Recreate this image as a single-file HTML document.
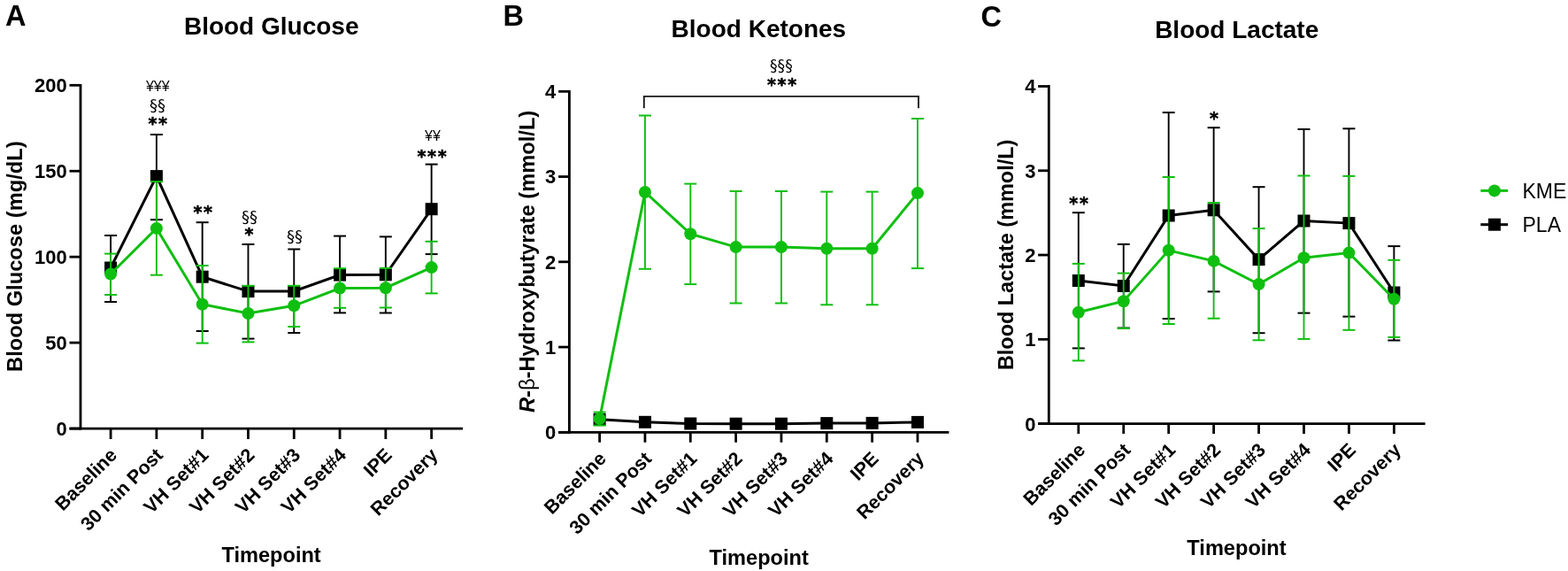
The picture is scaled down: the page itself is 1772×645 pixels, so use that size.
<!DOCTYPE html><html><head><meta charset="utf-8"><title>Blood Glucose, Ketones, Lactate</title><style>
html,body{margin:0;padding:0;background:#fff;width:1772px;height:645px;overflow:hidden}
svg{display:block}
text{font-family:'Liberation Sans', Arial, Helvetica, sans-serif;fill:#000}
.pl{font-size:32.5px;font-weight:bold}
.ti{font-size:28px;font-weight:bold}
.tl{font-size:22px;font-weight:bold}
.xl{font-size:21.5px;font-weight:bold}
.at{font-size:23.6px;font-weight:bold}
.ys{font-size:23.7px;font-weight:bold}
.ast{font-size:19px;font-weight:bold;font-family:"DejaVu Sans",sans-serif;letter-spacing:1.7px;stroke:#000;stroke-width:0.55px;stroke-linejoin:round}
.sec{font-size:18px;font-family:"DejaVu Sans",sans-serif}
.yen{font-size:16px}
.lg{font-size:23px}
</style></head><body>
<svg width="1772" height="645" viewBox="0 0 1772 645">
<text x="6" y="29.3" class="pl">A</text>
<text x="568.5" y="29.3" class="pl">B</text>
<text x="1108.5" y="29.6" class="pl">C</text>
<text x="306.7" y="38.8" text-anchor="middle" class="ti">Blood Glucose</text>
<text x="857.4" y="41.8" text-anchor="middle" class="ti">Blood Ketones</text>
<text x="1397.7" y="42.8" text-anchor="middle" class="ti">Blood Lactate</text>
<line x1="91" y1="94.9" x2="91" y2="485.45" stroke="#000" stroke-width="2.8"/>
<line x1="78.5" y1="484.05" x2="523" y2="484.05" stroke="#000" stroke-width="2.8"/>
<line x1="78.5" y1="484.05" x2="91" y2="484.05" stroke="#000" stroke-width="2.8"/>
<text x="75.8" y="491.95" text-anchor="end" class="tl">0</text>
<line x1="78.5" y1="387.11" x2="91" y2="387.11" stroke="#000" stroke-width="2.8"/>
<text x="75.8" y="395.01" text-anchor="end" class="tl">50</text>
<line x1="78.5" y1="290.18" x2="91" y2="290.18" stroke="#000" stroke-width="2.8"/>
<text x="75.8" y="298.07" text-anchor="end" class="tl">100</text>
<line x1="78.5" y1="193.24" x2="91" y2="193.24" stroke="#000" stroke-width="2.8"/>
<text x="75.8" y="201.14" text-anchor="end" class="tl">150</text>
<line x1="78.5" y1="96.3" x2="91" y2="96.3" stroke="#000" stroke-width="2.8"/>
<text x="75.8" y="104.2" text-anchor="end" class="tl">200</text>
<line x1="125.1" y1="484.05" x2="125.1" y2="496" stroke="#000" stroke-width="2.8"/>
<line x1="176.89" y1="484.05" x2="176.89" y2="496" stroke="#000" stroke-width="2.8"/>
<line x1="228.68" y1="484.05" x2="228.68" y2="496" stroke="#000" stroke-width="2.8"/>
<line x1="280.47" y1="484.05" x2="280.47" y2="496" stroke="#000" stroke-width="2.8"/>
<line x1="332.26" y1="484.05" x2="332.26" y2="496" stroke="#000" stroke-width="2.8"/>
<line x1="384.05" y1="484.05" x2="384.05" y2="496" stroke="#000" stroke-width="2.8"/>
<line x1="435.84" y1="484.05" x2="435.84" y2="496" stroke="#000" stroke-width="2.8"/>
<line x1="487.63" y1="484.05" x2="487.63" y2="496" stroke="#000" stroke-width="2.8"/>
<text x="133.5" y="515.4" text-anchor="end" class="xl" transform="rotate(-45 133.5 515.4)">Baseline</text>
<text x="185.29" y="515.4" text-anchor="end" class="xl" transform="rotate(-45 185.29 515.4)">30 min Post</text>
<text x="237.08" y="515.4" text-anchor="end" class="xl" transform="rotate(-45 237.08 515.4)">VH Set#1</text>
<text x="288.87" y="515.4" text-anchor="end" class="xl" transform="rotate(-45 288.87 515.4)">VH Set#2</text>
<text x="340.66" y="515.4" text-anchor="end" class="xl" transform="rotate(-45 340.66 515.4)">VH Set#3</text>
<text x="392.45" y="515.4" text-anchor="end" class="xl" transform="rotate(-45 392.45 515.4)">VH Set#4</text>
<text x="444.24" y="515.4" text-anchor="end" class="xl" transform="rotate(-45 444.24 515.4)">IPE</text>
<text x="496.03" y="515.4" text-anchor="end" class="xl" transform="rotate(-45 496.03 515.4)">Recovery</text>
<line x1="125.1" y1="302.5" x2="125.1" y2="266" stroke="#000" stroke-width="1.9"/>
<line x1="118.1" y1="266" x2="132.1" y2="266" stroke="#000" stroke-width="2.0"/>
<line x1="125.1" y1="302.5" x2="125.1" y2="341" stroke="#000" stroke-width="1.9"/>
<line x1="118.1" y1="341" x2="132.1" y2="341" stroke="#000" stroke-width="2.0"/>
<line x1="176.89" y1="199.1" x2="176.89" y2="152" stroke="#000" stroke-width="1.9"/>
<line x1="169.89" y1="152" x2="183.89" y2="152" stroke="#000" stroke-width="2.0"/>
<line x1="176.89" y1="199.1" x2="176.89" y2="248.2" stroke="#000" stroke-width="1.9"/>
<line x1="169.89" y1="248.2" x2="183.89" y2="248.2" stroke="#000" stroke-width="2.0"/>
<line x1="228.68" y1="312.7" x2="228.68" y2="251.2" stroke="#000" stroke-width="1.9"/>
<line x1="221.68" y1="251.2" x2="235.68" y2="251.2" stroke="#000" stroke-width="2.0"/>
<line x1="228.68" y1="312.7" x2="228.68" y2="374" stroke="#000" stroke-width="1.9"/>
<line x1="221.68" y1="374" x2="235.68" y2="374" stroke="#000" stroke-width="2.0"/>
<line x1="280.47" y1="329.1" x2="280.47" y2="276" stroke="#000" stroke-width="1.9"/>
<line x1="273.47" y1="276" x2="287.47" y2="276" stroke="#000" stroke-width="2.0"/>
<line x1="280.47" y1="329.1" x2="280.47" y2="382.6" stroke="#000" stroke-width="1.9"/>
<line x1="273.47" y1="382.6" x2="287.47" y2="382.6" stroke="#000" stroke-width="2.0"/>
<line x1="332.26" y1="329" x2="332.26" y2="281.5" stroke="#000" stroke-width="1.9"/>
<line x1="325.26" y1="281.5" x2="339.26" y2="281.5" stroke="#000" stroke-width="2.0"/>
<line x1="332.26" y1="329" x2="332.26" y2="376" stroke="#000" stroke-width="1.9"/>
<line x1="325.26" y1="376" x2="339.26" y2="376" stroke="#000" stroke-width="2.0"/>
<line x1="384.05" y1="310.6" x2="384.05" y2="266.6" stroke="#000" stroke-width="1.9"/>
<line x1="377.05" y1="266.6" x2="391.05" y2="266.6" stroke="#000" stroke-width="2.0"/>
<line x1="384.05" y1="310.6" x2="384.05" y2="353.4" stroke="#000" stroke-width="1.9"/>
<line x1="377.05" y1="353.4" x2="391.05" y2="353.4" stroke="#000" stroke-width="2.0"/>
<line x1="435.84" y1="310.3" x2="435.84" y2="267.4" stroke="#000" stroke-width="1.9"/>
<line x1="428.84" y1="267.4" x2="442.84" y2="267.4" stroke="#000" stroke-width="2.0"/>
<line x1="435.84" y1="310.3" x2="435.84" y2="353.5" stroke="#000" stroke-width="1.9"/>
<line x1="428.84" y1="353.5" x2="442.84" y2="353.5" stroke="#000" stroke-width="2.0"/>
<line x1="487.63" y1="236.2" x2="487.63" y2="185.6" stroke="#000" stroke-width="1.9"/>
<line x1="480.63" y1="185.6" x2="494.63" y2="185.6" stroke="#000" stroke-width="2.0"/>
<line x1="487.63" y1="236.2" x2="487.63" y2="287.1" stroke="#000" stroke-width="1.9"/>
<line x1="480.63" y1="287.1" x2="494.63" y2="287.1" stroke="#000" stroke-width="2.0"/>
<polyline fill="none" stroke="#000" stroke-width="3.0" stroke-linejoin="miter" points="125.1,302.5 176.89,199.1 228.68,312.7 280.47,329.1 332.26,329 384.05,310.6 435.84,310.3 487.63,236.2"/>
<rect x="118.1" y="295.5" width="14" height="14" fill="#000"/>
<rect x="169.89" y="192.1" width="14" height="14" fill="#000"/>
<rect x="221.68" y="305.7" width="14" height="14" fill="#000"/>
<rect x="273.47" y="322.1" width="14" height="14" fill="#000"/>
<rect x="325.26" y="322" width="14" height="14" fill="#000"/>
<rect x="377.05" y="303.6" width="14" height="14" fill="#000"/>
<rect x="428.84" y="303.3" width="14" height="14" fill="#000"/>
<rect x="480.63" y="229.2" width="14" height="14" fill="#000"/>
<line x1="125.1" y1="309.5" x2="125.1" y2="286.6" stroke="#0fbf10" stroke-width="1.9"/>
<line x1="118.1" y1="286.6" x2="132.1" y2="286.6" stroke="#0fbf10" stroke-width="2.0"/>
<line x1="125.1" y1="309.5" x2="125.1" y2="333" stroke="#0fbf10" stroke-width="1.9"/>
<line x1="118.1" y1="333" x2="132.1" y2="333" stroke="#0fbf10" stroke-width="2.0"/>
<line x1="176.89" y1="257.9" x2="176.89" y2="205.1" stroke="#0fbf10" stroke-width="1.9"/>
<line x1="169.89" y1="205.1" x2="183.89" y2="205.1" stroke="#0fbf10" stroke-width="2.0"/>
<line x1="176.89" y1="257.9" x2="176.89" y2="310.7" stroke="#0fbf10" stroke-width="1.9"/>
<line x1="169.89" y1="310.7" x2="183.89" y2="310.7" stroke="#0fbf10" stroke-width="2.0"/>
<line x1="228.68" y1="343.7" x2="228.68" y2="300" stroke="#0fbf10" stroke-width="1.9"/>
<line x1="221.68" y1="300" x2="235.68" y2="300" stroke="#0fbf10" stroke-width="2.0"/>
<line x1="228.68" y1="343.7" x2="228.68" y2="387.6" stroke="#0fbf10" stroke-width="1.9"/>
<line x1="221.68" y1="387.6" x2="235.68" y2="387.6" stroke="#0fbf10" stroke-width="2.0"/>
<line x1="280.47" y1="354" x2="280.47" y2="322.8" stroke="#0fbf10" stroke-width="1.9"/>
<line x1="273.47" y1="322.8" x2="287.47" y2="322.8" stroke="#0fbf10" stroke-width="2.0"/>
<line x1="280.47" y1="354" x2="280.47" y2="386.4" stroke="#0fbf10" stroke-width="1.9"/>
<line x1="273.47" y1="386.4" x2="287.47" y2="386.4" stroke="#0fbf10" stroke-width="2.0"/>
<line x1="332.26" y1="345.3" x2="332.26" y2="322.8" stroke="#0fbf10" stroke-width="1.9"/>
<line x1="325.26" y1="322.8" x2="339.26" y2="322.8" stroke="#0fbf10" stroke-width="2.0"/>
<line x1="332.26" y1="345.3" x2="332.26" y2="369" stroke="#0fbf10" stroke-width="1.9"/>
<line x1="325.26" y1="369" x2="339.26" y2="369" stroke="#0fbf10" stroke-width="2.0"/>
<line x1="384.05" y1="325.5" x2="384.05" y2="303.2" stroke="#0fbf10" stroke-width="1.9"/>
<line x1="377.05" y1="303.2" x2="391.05" y2="303.2" stroke="#0fbf10" stroke-width="2.0"/>
<line x1="384.05" y1="325.5" x2="384.05" y2="347.8" stroke="#0fbf10" stroke-width="1.9"/>
<line x1="377.05" y1="347.8" x2="391.05" y2="347.8" stroke="#0fbf10" stroke-width="2.0"/>
<line x1="435.84" y1="325.2" x2="435.84" y2="302.9" stroke="#0fbf10" stroke-width="1.9"/>
<line x1="428.84" y1="302.9" x2="442.84" y2="302.9" stroke="#0fbf10" stroke-width="2.0"/>
<line x1="435.84" y1="325.2" x2="435.84" y2="347.5" stroke="#0fbf10" stroke-width="1.9"/>
<line x1="428.84" y1="347.5" x2="442.84" y2="347.5" stroke="#0fbf10" stroke-width="2.0"/>
<line x1="487.63" y1="302.1" x2="487.63" y2="272.8" stroke="#0fbf10" stroke-width="1.9"/>
<line x1="480.63" y1="272.8" x2="494.63" y2="272.8" stroke="#0fbf10" stroke-width="2.0"/>
<line x1="487.63" y1="302.1" x2="487.63" y2="331.4" stroke="#0fbf10" stroke-width="1.9"/>
<line x1="480.63" y1="331.4" x2="494.63" y2="331.4" stroke="#0fbf10" stroke-width="2.0"/>
<polyline fill="none" stroke="#0fbf10" stroke-width="3.0" stroke-linejoin="miter" points="125.1,309.5 176.89,257.9 228.68,343.7 280.47,354 332.26,345.3 384.05,325.5 435.84,325.2 487.63,302.1"/>
<circle cx="125.1" cy="309.5" r="7.0" fill="#0fbf10"/>
<circle cx="176.89" cy="257.9" r="7.0" fill="#0fbf10"/>
<circle cx="228.68" cy="343.7" r="7.0" fill="#0fbf10"/>
<circle cx="280.47" cy="354" r="7.0" fill="#0fbf10"/>
<circle cx="332.26" cy="345.3" r="7.0" fill="#0fbf10"/>
<circle cx="384.05" cy="325.5" r="7.0" fill="#0fbf10"/>
<circle cx="435.84" cy="325.2" r="7.0" fill="#0fbf10"/>
<circle cx="487.63" cy="302.1" r="7.0" fill="#0fbf10"/>
<line x1="643.4" y1="101.9" x2="643.4" y2="489.7" stroke="#000" stroke-width="2.8"/>
<line x1="631.1" y1="488.3" x2="1072.4" y2="488.3" stroke="#000" stroke-width="2.8"/>
<line x1="631.1" y1="488.3" x2="643.4" y2="488.3" stroke="#000" stroke-width="2.8"/>
<text x="628.3" y="496.2" text-anchor="end" class="tl">0</text>
<line x1="631.1" y1="392.05" x2="643.4" y2="392.05" stroke="#000" stroke-width="2.8"/>
<text x="628.3" y="399.95" text-anchor="end" class="tl">1</text>
<line x1="631.1" y1="295.8" x2="643.4" y2="295.8" stroke="#000" stroke-width="2.8"/>
<text x="628.3" y="303.7" text-anchor="end" class="tl">2</text>
<line x1="631.1" y1="199.55" x2="643.4" y2="199.55" stroke="#000" stroke-width="2.8"/>
<text x="628.3" y="207.45" text-anchor="end" class="tl">3</text>
<line x1="631.1" y1="103.3" x2="643.4" y2="103.3" stroke="#000" stroke-width="2.8"/>
<text x="628.3" y="111.2" text-anchor="end" class="tl">4</text>
<line x1="677.6" y1="488.3" x2="677.6" y2="499.7" stroke="#000" stroke-width="2.8"/>
<line x1="728.94" y1="488.3" x2="728.94" y2="499.7" stroke="#000" stroke-width="2.8"/>
<line x1="780.28" y1="488.3" x2="780.28" y2="499.7" stroke="#000" stroke-width="2.8"/>
<line x1="831.62" y1="488.3" x2="831.62" y2="499.7" stroke="#000" stroke-width="2.8"/>
<line x1="882.96" y1="488.3" x2="882.96" y2="499.7" stroke="#000" stroke-width="2.8"/>
<line x1="934.3" y1="488.3" x2="934.3" y2="499.7" stroke="#000" stroke-width="2.8"/>
<line x1="985.64" y1="488.3" x2="985.64" y2="499.7" stroke="#000" stroke-width="2.8"/>
<line x1="1036.98" y1="488.3" x2="1036.98" y2="499.7" stroke="#000" stroke-width="2.8"/>
<text x="686.2" y="519.4" text-anchor="end" class="xl" transform="rotate(-45 686.2 519.4)">Baseline</text>
<text x="737.54" y="519.4" text-anchor="end" class="xl" transform="rotate(-45 737.54 519.4)">30 min Post</text>
<text x="788.88" y="519.4" text-anchor="end" class="xl" transform="rotate(-45 788.88 519.4)">VH Set#1</text>
<text x="840.22" y="519.4" text-anchor="end" class="xl" transform="rotate(-45 840.22 519.4)">VH Set#2</text>
<text x="891.56" y="519.4" text-anchor="end" class="xl" transform="rotate(-45 891.56 519.4)">VH Set#3</text>
<text x="942.9" y="519.4" text-anchor="end" class="xl" transform="rotate(-45 942.9 519.4)">VH Set#4</text>
<text x="994.24" y="519.4" text-anchor="end" class="xl" transform="rotate(-45 994.24 519.4)">IPE</text>
<text x="1045.58" y="519.4" text-anchor="end" class="xl" transform="rotate(-45 1045.58 519.4)">Recovery</text>
<polyline fill="none" stroke="#000" stroke-width="3.0" stroke-linejoin="miter" points="677.6,473.86 728.94,476.8 780.28,478.5 831.62,478.7 882.96,478.7 934.3,478.1 985.64,477.9 1036.98,476.9"/>
<rect x="670.6" y="466.86" width="14" height="14" fill="#000"/>
<rect x="721.94" y="469.8" width="14" height="14" fill="#000"/>
<rect x="773.28" y="471.5" width="14" height="14" fill="#000"/>
<rect x="824.62" y="471.7" width="14" height="14" fill="#000"/>
<rect x="875.96" y="471.7" width="14" height="14" fill="#000"/>
<rect x="927.3" y="471.1" width="14" height="14" fill="#000"/>
<rect x="978.64" y="470.9" width="14" height="14" fill="#000"/>
<rect x="1029.98" y="469.9" width="14" height="14" fill="#000"/>
<line x1="677.6" y1="473.1" x2="677.6" y2="465.6" stroke="#0fbf10" stroke-width="1.9"/>
<line x1="670.6" y1="465.6" x2="684.6" y2="465.6" stroke="#0fbf10" stroke-width="2.0"/>
<line x1="677.6" y1="473.1" x2="677.6" y2="480.6" stroke="#0fbf10" stroke-width="1.9"/>
<line x1="670.6" y1="480.6" x2="684.6" y2="480.6" stroke="#0fbf10" stroke-width="2.0"/>
<line x1="728.94" y1="217" x2="728.94" y2="130.5" stroke="#0fbf10" stroke-width="1.9"/>
<line x1="721.94" y1="130.5" x2="735.94" y2="130.5" stroke="#0fbf10" stroke-width="2.0"/>
<line x1="728.94" y1="217" x2="728.94" y2="303.8" stroke="#0fbf10" stroke-width="1.9"/>
<line x1="721.94" y1="303.8" x2="735.94" y2="303.8" stroke="#0fbf10" stroke-width="2.0"/>
<line x1="780.28" y1="264.2" x2="780.28" y2="207.6" stroke="#0fbf10" stroke-width="1.9"/>
<line x1="773.28" y1="207.6" x2="787.28" y2="207.6" stroke="#0fbf10" stroke-width="2.0"/>
<line x1="780.28" y1="264.2" x2="780.28" y2="321.1" stroke="#0fbf10" stroke-width="1.9"/>
<line x1="773.28" y1="321.1" x2="787.28" y2="321.1" stroke="#0fbf10" stroke-width="2.0"/>
<line x1="831.62" y1="279.1" x2="831.62" y2="216" stroke="#0fbf10" stroke-width="1.9"/>
<line x1="824.62" y1="216" x2="838.62" y2="216" stroke="#0fbf10" stroke-width="2.0"/>
<line x1="831.62" y1="279.1" x2="831.62" y2="342.5" stroke="#0fbf10" stroke-width="1.9"/>
<line x1="824.62" y1="342.5" x2="838.62" y2="342.5" stroke="#0fbf10" stroke-width="2.0"/>
<line x1="882.96" y1="279.1" x2="882.96" y2="216" stroke="#0fbf10" stroke-width="1.9"/>
<line x1="875.96" y1="216" x2="889.96" y2="216" stroke="#0fbf10" stroke-width="2.0"/>
<line x1="882.96" y1="279.1" x2="882.96" y2="342.5" stroke="#0fbf10" stroke-width="1.9"/>
<line x1="875.96" y1="342.5" x2="889.96" y2="342.5" stroke="#0fbf10" stroke-width="2.0"/>
<line x1="934.3" y1="280.8" x2="934.3" y2="216.6" stroke="#0fbf10" stroke-width="1.9"/>
<line x1="927.3" y1="216.6" x2="941.3" y2="216.6" stroke="#0fbf10" stroke-width="2.0"/>
<line x1="934.3" y1="280.8" x2="934.3" y2="344.3" stroke="#0fbf10" stroke-width="1.9"/>
<line x1="927.3" y1="344.3" x2="941.3" y2="344.3" stroke="#0fbf10" stroke-width="2.0"/>
<line x1="985.64" y1="280.8" x2="985.64" y2="216.6" stroke="#0fbf10" stroke-width="1.9"/>
<line x1="978.64" y1="216.6" x2="992.64" y2="216.6" stroke="#0fbf10" stroke-width="2.0"/>
<line x1="985.64" y1="280.8" x2="985.64" y2="344.3" stroke="#0fbf10" stroke-width="1.9"/>
<line x1="978.64" y1="344.3" x2="992.64" y2="344.3" stroke="#0fbf10" stroke-width="2.0"/>
<line x1="1036.98" y1="218.1" x2="1036.98" y2="134" stroke="#0fbf10" stroke-width="1.9"/>
<line x1="1029.98" y1="134" x2="1043.98" y2="134" stroke="#0fbf10" stroke-width="2.0"/>
<line x1="1036.98" y1="218.1" x2="1036.98" y2="303.1" stroke="#0fbf10" stroke-width="1.9"/>
<line x1="1029.98" y1="303.1" x2="1043.98" y2="303.1" stroke="#0fbf10" stroke-width="2.0"/>
<polyline fill="none" stroke="#0fbf10" stroke-width="3.0" stroke-linejoin="miter" points="677.6,473.1 728.94,217 780.28,264.2 831.62,279.1 882.96,279.1 934.3,280.8 985.64,280.8 1036.98,218.1"/>
<circle cx="677.6" cy="473.1" r="7.0" fill="#0fbf10"/>
<circle cx="728.94" cy="217" r="7.0" fill="#0fbf10"/>
<circle cx="780.28" cy="264.2" r="7.0" fill="#0fbf10"/>
<circle cx="831.62" cy="279.1" r="7.0" fill="#0fbf10"/>
<circle cx="882.96" cy="279.1" r="7.0" fill="#0fbf10"/>
<circle cx="934.3" cy="280.8" r="7.0" fill="#0fbf10"/>
<circle cx="985.64" cy="280.8" r="7.0" fill="#0fbf10"/>
<circle cx="1036.98" cy="218.1" r="7.0" fill="#0fbf10"/>
<line x1="1185.3" y1="96.1" x2="1185.3" y2="480" stroke="#000" stroke-width="2.8"/>
<line x1="1173.1" y1="478.6" x2="1610.6" y2="478.6" stroke="#000" stroke-width="2.8"/>
<line x1="1173.1" y1="478.6" x2="1185.3" y2="478.6" stroke="#000" stroke-width="2.8"/>
<text x="1170.4" y="486.5" text-anchor="end" class="tl">0</text>
<line x1="1173.1" y1="383.33" x2="1185.3" y2="383.33" stroke="#000" stroke-width="2.8"/>
<text x="1170.4" y="391.23" text-anchor="end" class="tl">1</text>
<line x1="1173.1" y1="288.05" x2="1185.3" y2="288.05" stroke="#000" stroke-width="2.8"/>
<text x="1170.4" y="295.95" text-anchor="end" class="tl">2</text>
<line x1="1173.1" y1="192.77" x2="1185.3" y2="192.77" stroke="#000" stroke-width="2.8"/>
<text x="1170.4" y="200.67" text-anchor="end" class="tl">3</text>
<line x1="1173.1" y1="97.5" x2="1185.3" y2="97.5" stroke="#000" stroke-width="2.8"/>
<text x="1170.4" y="105.4" text-anchor="end" class="tl">4</text>
<line x1="1218.8" y1="478.6" x2="1218.8" y2="490" stroke="#000" stroke-width="2.8"/>
<line x1="1269.74" y1="478.6" x2="1269.74" y2="490" stroke="#000" stroke-width="2.8"/>
<line x1="1320.68" y1="478.6" x2="1320.68" y2="490" stroke="#000" stroke-width="2.8"/>
<line x1="1371.62" y1="478.6" x2="1371.62" y2="490" stroke="#000" stroke-width="2.8"/>
<line x1="1422.56" y1="478.6" x2="1422.56" y2="490" stroke="#000" stroke-width="2.8"/>
<line x1="1473.5" y1="478.6" x2="1473.5" y2="490" stroke="#000" stroke-width="2.8"/>
<line x1="1524.44" y1="478.6" x2="1524.44" y2="490" stroke="#000" stroke-width="2.8"/>
<line x1="1575.38" y1="478.6" x2="1575.38" y2="490" stroke="#000" stroke-width="2.8"/>
<text x="1227.8" y="509.6" text-anchor="end" class="xl" transform="rotate(-45 1227.8 509.6)">Baseline</text>
<text x="1278.74" y="509.6" text-anchor="end" class="xl" transform="rotate(-45 1278.74 509.6)">30 min Post</text>
<text x="1329.68" y="509.6" text-anchor="end" class="xl" transform="rotate(-45 1329.68 509.6)">VH Set#1</text>
<text x="1380.62" y="509.6" text-anchor="end" class="xl" transform="rotate(-45 1380.62 509.6)">VH Set#2</text>
<text x="1431.56" y="509.6" text-anchor="end" class="xl" transform="rotate(-45 1431.56 509.6)">VH Set#3</text>
<text x="1482.5" y="509.6" text-anchor="end" class="xl" transform="rotate(-45 1482.5 509.6)">VH Set#4</text>
<text x="1533.44" y="509.6" text-anchor="end" class="xl" transform="rotate(-45 1533.44 509.6)">IPE</text>
<text x="1584.38" y="509.6" text-anchor="end" class="xl" transform="rotate(-45 1584.38 509.6)">Recovery</text>
<line x1="1218.8" y1="317" x2="1218.8" y2="240.2" stroke="#000" stroke-width="1.9"/>
<line x1="1211.8" y1="240.2" x2="1225.8" y2="240.2" stroke="#000" stroke-width="2.0"/>
<line x1="1218.8" y1="317" x2="1218.8" y2="393.4" stroke="#000" stroke-width="1.9"/>
<line x1="1211.8" y1="393.4" x2="1225.8" y2="393.4" stroke="#000" stroke-width="2.0"/>
<line x1="1269.74" y1="323" x2="1269.74" y2="275.9" stroke="#000" stroke-width="1.9"/>
<line x1="1262.74" y1="275.9" x2="1276.74" y2="275.9" stroke="#000" stroke-width="2.0"/>
<line x1="1269.74" y1="323" x2="1269.74" y2="370.5" stroke="#000" stroke-width="1.9"/>
<line x1="1262.74" y1="370.5" x2="1276.74" y2="370.5" stroke="#000" stroke-width="2.0"/>
<line x1="1320.68" y1="243.5" x2="1320.68" y2="127.1" stroke="#000" stroke-width="1.9"/>
<line x1="1313.68" y1="127.1" x2="1327.68" y2="127.1" stroke="#000" stroke-width="2.0"/>
<line x1="1320.68" y1="243.5" x2="1320.68" y2="360" stroke="#000" stroke-width="1.9"/>
<line x1="1313.68" y1="360" x2="1327.68" y2="360" stroke="#000" stroke-width="2.0"/>
<line x1="1371.62" y1="237.3" x2="1371.62" y2="144.2" stroke="#000" stroke-width="1.9"/>
<line x1="1364.62" y1="144.2" x2="1378.62" y2="144.2" stroke="#000" stroke-width="2.0"/>
<line x1="1371.62" y1="237.3" x2="1371.62" y2="329.4" stroke="#000" stroke-width="1.9"/>
<line x1="1364.62" y1="329.4" x2="1378.62" y2="329.4" stroke="#000" stroke-width="2.0"/>
<line x1="1422.56" y1="293.1" x2="1422.56" y2="211.2" stroke="#000" stroke-width="1.9"/>
<line x1="1415.56" y1="211.2" x2="1429.56" y2="211.2" stroke="#000" stroke-width="2.0"/>
<line x1="1422.56" y1="293.1" x2="1422.56" y2="376.2" stroke="#000" stroke-width="1.9"/>
<line x1="1415.56" y1="376.2" x2="1429.56" y2="376.2" stroke="#000" stroke-width="2.0"/>
<line x1="1473.5" y1="249.5" x2="1473.5" y2="146" stroke="#000" stroke-width="1.9"/>
<line x1="1466.5" y1="146" x2="1480.5" y2="146" stroke="#000" stroke-width="2.0"/>
<line x1="1473.5" y1="249.5" x2="1473.5" y2="353.6" stroke="#000" stroke-width="1.9"/>
<line x1="1466.5" y1="353.6" x2="1480.5" y2="353.6" stroke="#000" stroke-width="2.0"/>
<line x1="1524.44" y1="252.1" x2="1524.44" y2="145.3" stroke="#000" stroke-width="1.9"/>
<line x1="1517.44" y1="145.3" x2="1531.44" y2="145.3" stroke="#000" stroke-width="2.0"/>
<line x1="1524.44" y1="252.1" x2="1524.44" y2="357.6" stroke="#000" stroke-width="1.9"/>
<line x1="1517.44" y1="357.6" x2="1531.44" y2="357.6" stroke="#000" stroke-width="2.0"/>
<line x1="1575.38" y1="330.5" x2="1575.38" y2="278.1" stroke="#000" stroke-width="1.9"/>
<line x1="1568.38" y1="278.1" x2="1582.38" y2="278.1" stroke="#000" stroke-width="2.0"/>
<line x1="1575.38" y1="330.5" x2="1575.38" y2="384.5" stroke="#000" stroke-width="1.9"/>
<line x1="1568.38" y1="384.5" x2="1582.38" y2="384.5" stroke="#000" stroke-width="2.0"/>
<polyline fill="none" stroke="#000" stroke-width="3.0" stroke-linejoin="miter" points="1218.8,317 1269.74,323 1320.68,243.5 1371.62,237.3 1422.56,293.1 1473.5,249.5 1524.44,252.1 1575.38,330.5"/>
<rect x="1211.8" y="310" width="14" height="14" fill="#000"/>
<rect x="1262.74" y="316" width="14" height="14" fill="#000"/>
<rect x="1313.68" y="236.5" width="14" height="14" fill="#000"/>
<rect x="1364.62" y="230.3" width="14" height="14" fill="#000"/>
<rect x="1415.56" y="286.1" width="14" height="14" fill="#000"/>
<rect x="1466.5" y="242.5" width="14" height="14" fill="#000"/>
<rect x="1517.44" y="245.1" width="14" height="14" fill="#000"/>
<rect x="1568.38" y="323.5" width="14" height="14" fill="#000"/>
<line x1="1218.8" y1="352.7" x2="1218.8" y2="297.9" stroke="#0fbf10" stroke-width="1.9"/>
<line x1="1211.8" y1="297.9" x2="1225.8" y2="297.9" stroke="#0fbf10" stroke-width="2.0"/>
<line x1="1218.8" y1="352.7" x2="1218.8" y2="407.4" stroke="#0fbf10" stroke-width="1.9"/>
<line x1="1211.8" y1="407.4" x2="1225.8" y2="407.4" stroke="#0fbf10" stroke-width="2.0"/>
<line x1="1269.74" y1="340.2" x2="1269.74" y2="308.6" stroke="#0fbf10" stroke-width="1.9"/>
<line x1="1262.74" y1="308.6" x2="1276.74" y2="308.6" stroke="#0fbf10" stroke-width="2.0"/>
<line x1="1269.74" y1="340.2" x2="1269.74" y2="370.8" stroke="#0fbf10" stroke-width="1.9"/>
<line x1="1262.74" y1="370.8" x2="1276.74" y2="370.8" stroke="#0fbf10" stroke-width="2.0"/>
<line x1="1320.68" y1="282.8" x2="1320.68" y2="200" stroke="#0fbf10" stroke-width="1.9"/>
<line x1="1313.68" y1="200" x2="1327.68" y2="200" stroke="#0fbf10" stroke-width="2.0"/>
<line x1="1320.68" y1="282.8" x2="1320.68" y2="366" stroke="#0fbf10" stroke-width="1.9"/>
<line x1="1313.68" y1="366" x2="1327.68" y2="366" stroke="#0fbf10" stroke-width="2.0"/>
<line x1="1371.62" y1="294.9" x2="1371.62" y2="229" stroke="#0fbf10" stroke-width="1.9"/>
<line x1="1364.62" y1="229" x2="1378.62" y2="229" stroke="#0fbf10" stroke-width="2.0"/>
<line x1="1371.62" y1="294.9" x2="1371.62" y2="359.7" stroke="#0fbf10" stroke-width="1.9"/>
<line x1="1364.62" y1="359.7" x2="1378.62" y2="359.7" stroke="#0fbf10" stroke-width="2.0"/>
<line x1="1422.56" y1="321.1" x2="1422.56" y2="258.1" stroke="#0fbf10" stroke-width="1.9"/>
<line x1="1415.56" y1="258.1" x2="1429.56" y2="258.1" stroke="#0fbf10" stroke-width="2.0"/>
<line x1="1422.56" y1="321.1" x2="1422.56" y2="384.3" stroke="#0fbf10" stroke-width="1.9"/>
<line x1="1415.56" y1="384.3" x2="1429.56" y2="384.3" stroke="#0fbf10" stroke-width="2.0"/>
<line x1="1473.5" y1="291.2" x2="1473.5" y2="198.5" stroke="#0fbf10" stroke-width="1.9"/>
<line x1="1466.5" y1="198.5" x2="1480.5" y2="198.5" stroke="#0fbf10" stroke-width="2.0"/>
<line x1="1473.5" y1="291.2" x2="1473.5" y2="382.9" stroke="#0fbf10" stroke-width="1.9"/>
<line x1="1466.5" y1="382.9" x2="1480.5" y2="382.9" stroke="#0fbf10" stroke-width="2.0"/>
<line x1="1524.44" y1="285.6" x2="1524.44" y2="198.9" stroke="#0fbf10" stroke-width="1.9"/>
<line x1="1517.44" y1="198.9" x2="1531.44" y2="198.9" stroke="#0fbf10" stroke-width="2.0"/>
<line x1="1524.44" y1="285.6" x2="1524.44" y2="372.8" stroke="#0fbf10" stroke-width="1.9"/>
<line x1="1517.44" y1="372.8" x2="1531.44" y2="372.8" stroke="#0fbf10" stroke-width="2.0"/>
<line x1="1575.38" y1="337.7" x2="1575.38" y2="293.8" stroke="#0fbf10" stroke-width="1.9"/>
<line x1="1568.38" y1="293.8" x2="1582.38" y2="293.8" stroke="#0fbf10" stroke-width="2.0"/>
<line x1="1575.38" y1="337.7" x2="1575.38" y2="380.9" stroke="#0fbf10" stroke-width="1.9"/>
<line x1="1568.38" y1="380.9" x2="1582.38" y2="380.9" stroke="#0fbf10" stroke-width="2.0"/>
<polyline fill="none" stroke="#0fbf10" stroke-width="3.0" stroke-linejoin="miter" points="1218.8,352.7 1269.74,340.2 1320.68,282.8 1371.62,294.9 1422.56,321.1 1473.5,291.2 1524.44,285.6 1575.38,337.7"/>
<circle cx="1218.8" cy="352.7" r="7.0" fill="#0fbf10"/>
<circle cx="1269.74" cy="340.2" r="7.0" fill="#0fbf10"/>
<circle cx="1320.68" cy="282.8" r="7.0" fill="#0fbf10"/>
<circle cx="1371.62" cy="294.9" r="7.0" fill="#0fbf10"/>
<circle cx="1422.56" cy="321.1" r="7.0" fill="#0fbf10"/>
<circle cx="1473.5" cy="291.2" r="7.0" fill="#0fbf10"/>
<circle cx="1524.44" cy="285.6" r="7.0" fill="#0fbf10"/>
<circle cx="1575.38" cy="337.7" r="7.0" fill="#0fbf10"/>
<text x="306.6" y="635" text-anchor="middle" class="at">Timepoint</text>
<text x="857.7" y="637.6" text-anchor="middle" class="at">Timepoint</text>
<text x="1397.5" y="626.6" text-anchor="middle" class="at">Timepoint</text>
<text transform="translate(25.1,289.7) rotate(-90)" text-anchor="middle" class="ys">Blood Glucose (mg/dL)</text>
<text transform="translate(603.5,295.4) rotate(-90)" text-anchor="middle" class="ys"><tspan font-style="italic">R</tspan>-<tspan font-weight="normal">β</tspan>-Hydroxybutyrate (mmol/L)</text>
<text transform="translate(1144.8,287.9) rotate(-90)" text-anchor="middle" class="ys" style="font-size:23.45px">Blood Lactate (mmol/L)</text>
<text x="179.05" y="145.9" text-anchor="middle" class="ast">**</text>
<text x="178" y="124.9" text-anchor="middle" class="sec">§§</text>
<text x="178.25" y="102.9" text-anchor="middle" class="yen">¥¥¥</text>
<text x="230.05" y="245.7" text-anchor="middle" class="ast">**</text>
<text x="282.25" y="270.8" text-anchor="middle" class="ast">*</text>
<text x="282" y="250.8" text-anchor="middle" class="sec">§§</text>
<text x="333.1" y="272.6" text-anchor="middle" class="sec">§§</text>
<text x="488.85" y="182.6" text-anchor="middle" class="ast">***</text>
<text x="488.9" y="158.6" text-anchor="middle" class="yen">¥¥</text>
<polyline fill="none" stroke="#1a1a1a" stroke-width="1.9" points="727.8,122.3 727.8,108.9 1038,108.9 1038,122.3"/>
<text x="884.35" y="101.7" text-anchor="middle" class="ast">***</text>
<text x="882.9" y="79.6" text-anchor="middle" class="sec" style="font-size:17.2px">§§§</text>
<text x="1219.95" y="236.4" text-anchor="middle" class="ast">**</text>
<text x="1372.85" y="139.5" text-anchor="middle" class="ast">*</text>
<line x1="1673.3" y1="215.4" x2="1704" y2="215.4" stroke="#0fbf10" stroke-width="3"/>
<circle cx="1688.9" cy="215.4" r="7.0" fill="#0fbf10"/>
<text x="1720.5" y="224.2" class="lg">KME</text>
<line x1="1673.3" y1="253.7" x2="1704" y2="253.7" stroke="#000" stroke-width="3"/>
<rect x="1681.9" y="246.7" width="14" height="14" fill="#000"/>
<text x="1720.5" y="262" class="lg">PLA</text>
</svg></body></html>
